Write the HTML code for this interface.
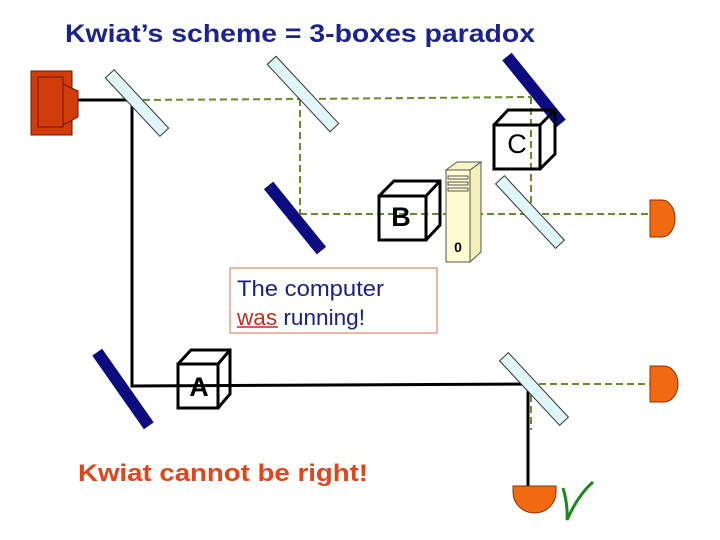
<!DOCTYPE html>
<html><head><meta charset="utf-8"><style>
html,body{margin:0;padding:0;background:#fff;}
svg{display:block;font-family:"Liberation Sans",Arial,sans-serif;}
</style></head><body>
<svg width="720" height="540" viewBox="0 0 720 540" xmlns="http://www.w3.org/2000/svg">
<text x="65" y="42" font-size="25" font-weight="bold" fill="#1a2390" textLength="470" lengthAdjust="spacingAndGlyphs">Kwiat’s scheme  = 3-boxes paradox</text>
<!-- beams -->
<g fill="none" stroke="#000" stroke-width="3">
<polyline points="78,100 132,100 132,386 528,384 528,490"/>
</g>
<g fill="none" stroke="#6b8a2a" stroke-width="2" stroke-dasharray="7,4">
<polyline points="132,100 300,99 531,97"/>
<line x1="300" y1="99" x2="300" y2="214"/>
<line x1="531" y1="97" x2="531" y2="214"/>
<line x1="300" y1="214" x2="652" y2="214"/>
<line x1="528" y1="384" x2="652" y2="384"/>
<line x1="531" y1="384" x2="531" y2="430"/>
</g>
<!-- source -->
<rect x="31" y="71" width="41" height="64" fill="#d23c0a" stroke="#6a1a00"/>
<rect x="38" y="77" width="25" height="50" fill="#d23c0a" stroke="#6a1a00"/>
<polygon points="63,84 78,91 78,117 63,125" fill="#d23c0a" stroke="#6a1a00"/>
<!-- beam splitters -->
<g fill="#dff6fa" stroke="#333" stroke-width="1">
<rect x="-40" y="-6" width="80" height="12" transform="translate(137,103) rotate(47)"/>
<rect x="-46" y="-6" width="92" height="12" transform="translate(303,94) rotate(47)"/>
<rect x="-44" y="-6" width="88" height="12" transform="translate(530,212) rotate(47)"/>
<rect x="-44" y="-6" width="88" height="12" transform="translate(534,389) rotate(47)"/>
</g>
<!-- mirrors -->
<g fill="#0c0c80">
<rect x="-42" y="-6" width="84" height="12" transform="translate(295,218) rotate(51)"/>
<rect x="-43" y="-6" width="86" height="12" transform="translate(534,90) rotate(51)"/>
<rect x="-45" y="-6" width="90" height="12" transform="translate(123,389) rotate(55)"/>
</g>
<!-- boxes -->
<g fill="none" stroke="#000" stroke-width="3" stroke-linejoin="miter">
<rect x="494" y="125" width="46" height="44"/>
<polyline points="494,125 508,110 555,110 555,154 540,169"/>
<line x1="540" y1="125" x2="555" y2="110"/>
<rect x="379" y="196" width="47" height="44"/>
<polyline points="379,196 394,181 440,181 440,225 426,240"/>
<line x1="426" y1="196" x2="440" y2="181"/>
<rect x="178" y="364" width="40" height="44"/>
<polyline points="178,364 191,350 230,350 230,394 218,408"/>
<line x1="218" y1="364" x2="230" y2="350"/>
</g>
<text x="517" y="153" font-size="27" text-anchor="middle">C</text>
<text x="401" y="226" font-size="27" font-weight="bold" text-anchor="middle">B</text>
<text x="199" y="396" font-size="27" font-weight="bold" text-anchor="middle">A</text>
<!-- computer -->
<polygon points="446,170 470,170 470,262 446,262" fill="#fdfbd0" stroke="#555"/>
<polygon points="470,170 481,162 481,252 470,262" fill="#f3efb8" stroke="#555"/>
<polygon points="446,170 457,162 481,162 470,170" fill="#f8f5c4" stroke="#555"/>
<g stroke="#555" fill="none"><rect x="448" y="176" width="20" height="3"/><rect x="448" y="182" width="20" height="3"/><rect x="448" y="188" width="20" height="3"/></g>
<text x="458" y="252" font-size="14" font-weight="bold" text-anchor="middle">0</text>
<!-- detectors -->
<g fill="#f26a10" stroke="#8a3000">
<path d="M650,200 L662,200 A13,18.5 0 0 1 662,237 L650,237 Z"/>
<path d="M650,366 L664,366 A14,18 0 0 1 664,402 L650,402 Z"/>
<path d="M513,486 L556,486 L556,492 A21.5,21 0 0 1 513,492 Z"/>
</g>
<!-- text box -->
<rect x="230" y="268" width="207" height="65" fill="#fff" stroke="#d9704a"/>
<text x="237" y="296" font-size="22" fill="#1a1f8a" textLength="147" lengthAdjust="spacingAndGlyphs">The computer</text>
<text x="237" y="325" font-size="22" fill="#1a1f8a" textLength="128" lengthAdjust="spacingAndGlyphs"><tspan fill="#c0301a">was</tspan> running!</text>
<line x1="237" y1="327" x2="278" y2="327" stroke="#c0301a" stroke-width="1.5"/>
<text x="78" y="481" font-size="24" font-weight="bold" fill="#e0461a" textLength="290" lengthAdjust="spacingAndGlyphs">Kwiat cannot be right!</text>
<!-- check -->
<path d="M563,488 Q568,505 567,520 Q578,495 593,482" fill="none" stroke="#1a8a1a" stroke-width="3"/>
</svg>
</body></html>
